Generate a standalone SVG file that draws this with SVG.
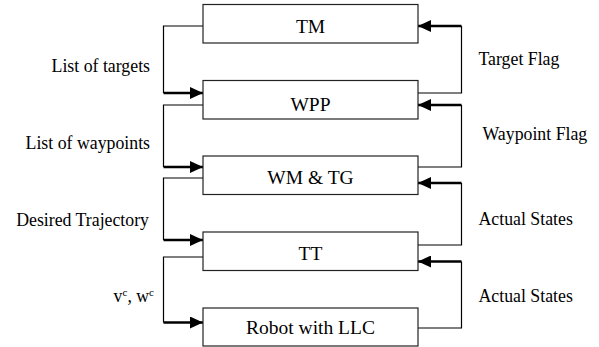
<svg xmlns="http://www.w3.org/2000/svg" width="599" height="347" viewBox="0 0 599 347">
<style>
.box{fill:#fff;stroke:#222;stroke-width:1.2}
.bt{font-size:19.5px;fill:#000;text-anchor:middle}
.lb{font-size:17.8px;fill:#000}
.thin{fill:none;stroke:#000;stroke-width:1.2}
.thick{fill:none;stroke:#000;stroke-width:2.4;marker-end:url(#ah)}
</style>
<defs>
<marker id="ah" markerUnits="userSpaceOnUse" markerWidth="14" markerHeight="12" refX="13" refY="6" orient="auto">
<path d="M0,0 L13,6 L0,12 z" fill="#000"/>
</marker>
</defs>
<g id="connectors">
<path class="thin" d="M203,26 H163.5 V93"/>
<path class="thick" d="M163.5,93 H203"/>
<path class="thin" d="M203,105 H163.5 V167"/>
<path class="thick" d="M163.5,167 H203"/>
<path class="thin" d="M203,178 H163.5 V240"/>
<path class="thick" d="M163.5,240 H203"/>
<path class="thin" d="M203,257 H163.5 V322.5"/>
<path class="thick" d="M163.5,322.5 H203"/>
<path class="thin" d="M418,93 H461.5 V26"/>
<path class="thick" d="M461.5,26 H418"/>
<path class="thin" d="M418,167 H461.5 V105"/>
<path class="thick" d="M461.5,105 H418"/>
<path class="thin" d="M418,245 H461.5 V183"/>
<path class="thick" d="M461.5,183 H418"/>
<path class="thin" d="M418,328 H461.5 V261.5"/>
<path class="thick" d="M461.5,261.5 H418"/>
</g>
<g id="labels" font-family="'Liberation Serif', 'Times New Roman', Tinos, 'DejaVu Serif', serif">
<text class="lb" x="150" y="72" text-anchor="end">List of targets</text>
<text class="lb" x="150" y="149" text-anchor="end">List of waypoints</text>
<text class="lb" x="149" y="225.5" text-anchor="end">Desired Trajectory</text>
<text class="lb" x="154" y="301.5" text-anchor="end">v<tspan font-size="11" dy="-6">c</tspan><tspan dy="6">, w</tspan><tspan font-size="11" dy="-6">c</tspan></text>
<text class="lb" x="478.5" y="65">Target Flag</text>
<text class="lb" x="482.5" y="140">Waypoint Flag</text>
<text class="lb" x="478.5" y="225">Actual States</text>
<text class="lb" x="478.5" y="301.5">Actual States</text>
</g>
<g font-family="'Liberation Serif', 'Times New Roman', Tinos, 'DejaVu Serif', serif">
<g id="TM"><rect class="box" x="203" y="4.5" width="215" height="38.5"/><text class="bt" x="310.5" y="32.5">TM</text></g>
<g id="WPP"><rect class="box" x="203" y="80.5" width="215" height="38.5"/><text class="bt" x="310.5" y="110.5">WPP</text></g>
<g id="WMTG"><rect class="box" x="203" y="156" width="215" height="38.5"/><text class="bt" x="310.5" y="184">WM &amp; TG</text></g>
<g id="TT"><rect class="box" x="203" y="232" width="215" height="38.5"/><text class="bt" x="310.5" y="259.5">TT</text></g>
<g id="Robot"><rect class="box" x="203" y="308" width="215" height="38"/><text class="bt" x="310.5" y="333.5">Robot with LLC</text></g>
</g>
</svg>
